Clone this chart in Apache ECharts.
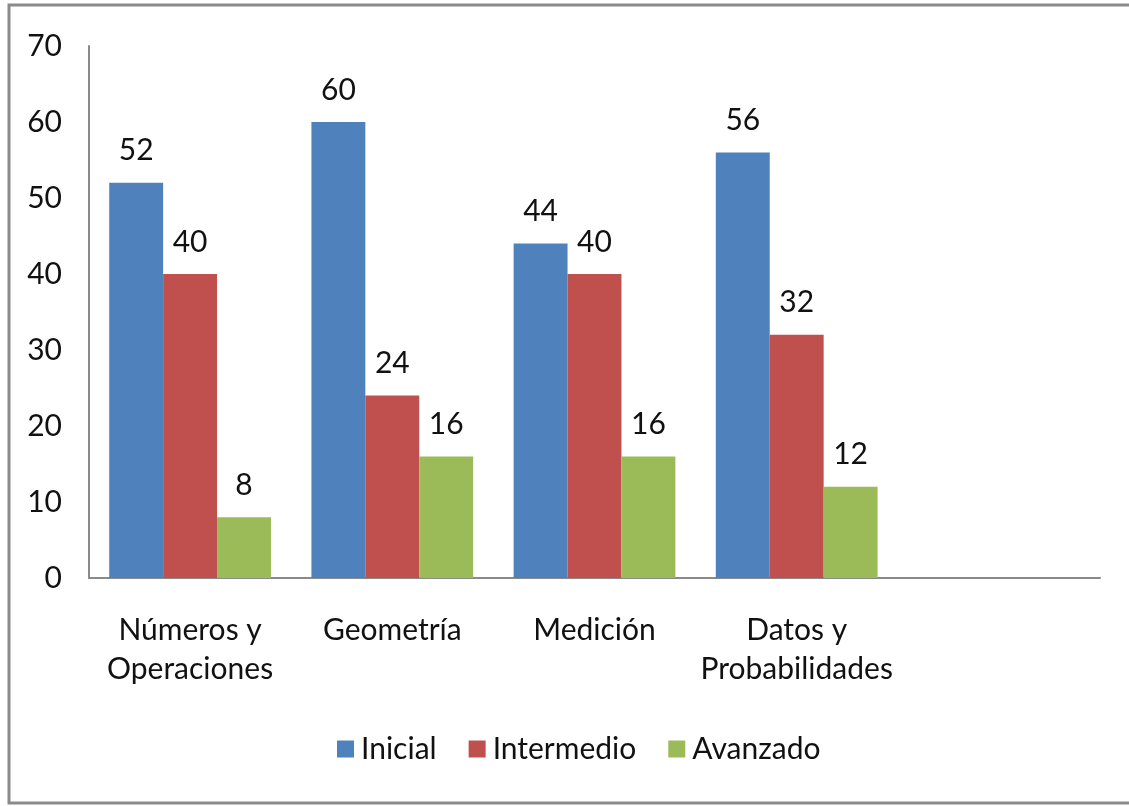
<!DOCTYPE html>
<html>
<head>
<meta charset="utf-8">
<script src="https://cdn.jsdelivr.net/npm/echarts@6/dist/echarts.min.js"></script>
<style>html,body{margin:0;padding:0;background:#fff;}#c{width:1129px;height:806px;}</style>
</head>
<body>
<div id="c"></div>
<script>
const categories = ['Números y\nOperaciones', 'Geometría', 'Medición', 'Datos y\nProbabilidades', ''];
const seriesNames = ['Inicial', 'Intermedio', 'Avanzado'];
const inicial = [52, 60, 44, 56, null];
const intermedio = [40, 24, 40, 32, null];
const avanzado = [8, 16, 16, 12, null];
const yTicks = [0, 10, 20, 30, 40, 50, 60, 70];

const FONT = "Lato, 'Liberation Sans', sans-serif";
const FS = 30;
const colors = ['#4F81BD', '#C0504D', '#9BBB59'];
const chart = echarts.init(document.getElementById('c'), null, {renderer: 'canvas'});
const mk = (name, data, i) => ({
  name, type: 'bar', data,
  barGap: '0%', barCategoryGap: '20%',
  itemStyle: {color: colors[i]},
  label: {show: true, position: 'top', distance: 17, color: '#111', fontFamily: FONT, fontSize: FS}
});
chart.setOption({
  animation: false,
  backgroundColor: '#fff',
  graphic: [{type: 'rect', shape: {x: 9, y: 5, width: 1200, height: 798}, style: {fill: 'none', stroke: '#8a8a8a', lineWidth: 3}, z: 100}],
  grid: {left: 89, right: 29, top: 46, bottom: 228},
  legend: {
    bottom: 37, left: 332, itemWidth: 17, itemHeight: 17, itemGap: 32,
    icon: 'rect',
    textStyle: {fontFamily: FONT, fontSize: FS, color: '#111', padding: [0, 0, 0, 2]},
    data: seriesNames
  },
  xAxis: {
    type: 'category', data: categories,
    axisLine: {lineStyle: {color: '#8a8a8a', width: 2}},
    axisTick: {show: false},
    axisLabel: {fontFamily: FONT, fontSize: FS, color: '#111', margin: 33, lineHeight: 39, interval: 0}
  },
  yAxis: {
    type: 'value', min: 0, max: 70, interval: 10,
    axisLine: {show: true, lineStyle: {color: '#8a8a8a', width: 2}},
    axisTick: {show: false},
    splitLine: {show: false},
    axisLabel: {fontFamily: FONT, fontSize: FS, color: '#111', margin: 27,
      formatter: v => yTicks.includes(v) ? String(v) : ''}
  },
  series: [mk(seriesNames[0], inicial, 0), mk(seriesNames[1], intermedio, 1), mk(seriesNames[2], avanzado, 2)]
});
</script>
</body>
</html>
